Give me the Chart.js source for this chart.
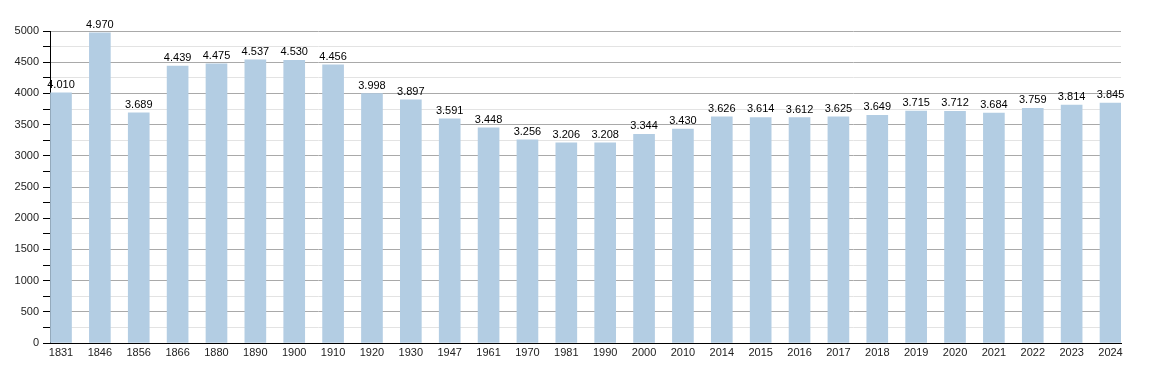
<!DOCTYPE html>
<html>
<head>
<meta charset="utf-8">
<script src="https://cdn.jsdelivr.net/npm/chart.js@4/dist/chart.umd.min.js"></script>
<style>
  body { margin: 0; background: #fff; }
  #wrap { width: 1150px; height: 373px; }
</style>
</head>
<body>
<div id="wrap"><canvas id="popChart" width="1150" height="373"></canvas></div>
<script>
const years = ['1831', '1846', '1856', '1866', '1880', '1890', '1900', '1910', '1920', '1930',
  '1947', '1961', '1970', '1981', '1990', '2000', '2010', '2014', '2015', '2016',
  '2017', '2018', '2019', '2020', '2021', '2022', '2023', '2024'];
const population = [4010, 4970, 3689, 4439, 4475, 4537, 4530, 4456, 3998, 3897,
  3591, 3448, 3256, 3206, 3208, 3344, 3430, 3626, 3614, 3612,
  3625, 3649, 3715, 3712, 3684, 3759, 3814, 3845];
const yTicks = [0, 500, 1000, 1500, 2000, 2500, 3000, 3500, 4000, 4500, 5000];

function fmt(v) {
  return String(v).replace(/\B(?=(\d{3})+(?!\d))/g, '.');
}

const FONT = "'Liberation Sans', Arial, sans-serif";

const valueLabels = {
  id: 'valueLabels',
  afterDatasetsDraw(chart) {
    const ctx = chart.ctx;
    const meta = chart.getDatasetMeta(0);
    ctx.save();
    ctx.font = '11px ' + FONT;
    ctx.fillStyle = '#000';
    ctx.textAlign = 'center';
    ctx.textBaseline = 'alphabetic';
    meta.data.forEach((bar, i) => {
      ctx.fillText(fmt(population[i]), bar.x, bar.y - 5);
    });
    ctx.restore();
  },
};

const ctx = document.getElementById('popChart').getContext('2d');
const popChart = new Chart(ctx, {
  type: 'bar',
  data: {
    datasets: [
      {
        data: population.map((v, i) => ({ x: i, y: v })),
        backgroundColor: '#b3cde3',
        borderWidth: 0,
        barThickness: 21,
      },
    ],
  },
  options: {
    responsive: false,
    animation: false,
    layout: {
      padding: { top: 31, right: 29, bottom: 10, left: 0 },
    },
    scales: {
      x: {
        type: 'linear',
        min: -0.283,
        max: 27.27,
        offset: false,
        afterFit: (scale) => { scale.height = 20; },
        grid: { display: false, drawTicks: false },
        border: { display: true, color: '#000', width: 1 },
        ticks: {
          stepSize: 1,
          autoSkip: false,
          includeBounds: false,
          maxRotation: 0,
          padding: 3,
          color: '#222',
          font: { family: FONT, size: 11 },
          callback: (value) => (Number.isInteger(value) && years[value]) ? years[value] : '',
        },
      },
      y: {
        min: 0,
        max: yTicks[yTicks.length - 1],
        afterFit: (scale) => { scale.width = 50; },
        grid: {
          color: (c) => (c.tick && yTicks.includes(c.tick.value)) ? '#a9a9a9' : '#e3e3e3',
          tickColor: '#000',
          tickLength: 7,
        },
        border: { display: true, color: '#000', width: 1 },
        ticks: {
          stepSize: 250,
          autoSkip: false,
          padding: 4,
          color: '#222',
          font: { family: FONT, size: 11 },
          callback: (value) => yTicks.includes(value) ? value : '',
        },
      },
    },
    plugins: {
      legend: { display: false },
      tooltip: { enabled: false },
    },
  },
  plugins: [valueLabels],
});
</script>
</body>
</html>
